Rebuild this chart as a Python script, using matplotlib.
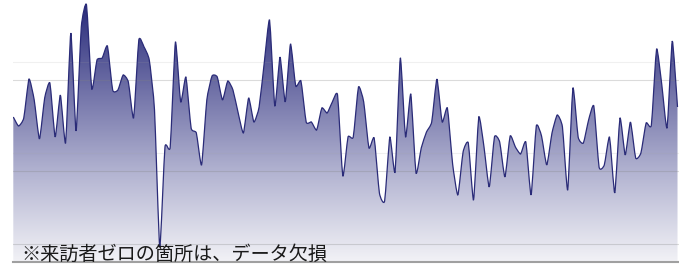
import numpy as np
import matplotlib
matplotlib.use('Agg')
import matplotlib.pyplot as plt
from matplotlib.colors import LinearSegmentedColormap
from matplotlib.path import Path
from matplotlib.patches import PathPatch

plt.rcParams['font.family'] = ['Noto Sans CJK JP', 'DejaVu Sans']

# 来訪者数（画像から読み取った値、欠損日はゼロ付近）
visitors = [145, 136, 144, 183, 162, 123, 164, 179, 125, 167,
            119, 229, 131, 235, 257, 173, 202, 204, 216, 172,
            172, 187, 180, 144, 222, 215, 202, 152, 15, 115,
            115, 220, 160, 185, 134, 129, 97, 162, 186, 185,
            162, 181, 172, 149, 129, 164, 140, 155, 200, 242,
            156, 205, 160, 218, 176, 181, 140, 140, 132, 154,
            149, 160, 167, 86, 125, 125, 175, 160, 114, 124,
            69, 61, 125, 90, 204, 125, 168, 89, 114, 130,
            140, 183, 140, 154, 98, 67, 110, 119, 62, 145,
            115, 75, 125, 120, 85, 126, 115, 108, 120, 67,
            136, 126, 97, 129, 147, 135, 72, 174, 125, 119,
            142, 156, 95, 97, 125, 69, 144, 107, 140, 104,
            109, 139, 137, 213, 177, 134, 221, 155]
days = np.arange(len(visitors))

grid_major = [18, 91, 182]
grid_minor = [109, 200]


# 折れ線をなめらかな曲線（ベジェ）にする
def smooth_path(xs, ys, t=0.5, close=False):
    pts = np.column_stack([xs, ys]).astype(float)
    n = len(pts)
    verts = [pts[0]]
    codes = [Path.MOVETO]
    for i in range(n - 1):
        p0 = pts[max(i - 1, 0)]
        p1 = pts[i]
        p2 = pts[i + 1]
        p3 = pts[min(i + 2, n - 1)]
        c1 = p1 + (p2 - p0) / 6 * t
        c2 = p2 - (p3 - p1) / 6 * t
        verts += [c1, c2, p2]
        codes += [Path.CURVE4] * 3
    if close:
        verts += [(xs[-1], 0), (xs[0], 0), pts[0]]
        codes += [Path.LINETO, Path.LINETO, Path.CLOSEPOLY]
    return Path(verts, codes)


fig = plt.figure(figsize=(6.79, 2.67), dpi=100)
ax = fig.add_axes([13.3 / 679, 5 / 267, 1 - 13.3 / 679, 262 / 267])

xmax = (679 - 13.3) / 5.23
ax.set_xlim(0, xmax)
ax.set_ylim(0, 262)

# グラデーション塗り
cmap = LinearSegmentedColormap.from_list(
    'navy', ['#f2f2f6', '#b4b5d2', '#6e6fa6', '#262878'])
grad = np.linspace(0, 1, 256).reshape(-1, 1)
im = ax.imshow(grad, cmap=cmap, aspect='auto', origin='lower',
               extent=[0, xmax, 0, 262], zorder=1)
im.set_clip_path(smooth_path(days, visitors, close=True), transform=ax.transData)

ax.add_patch(PathPatch(smooth_path(days, visitors), fill=False,
                       edgecolor='#2a2b78', lw=0.9, zorder=3))

for g in grid_major:
    ax.axhline(g, color='#808080', alpha=0.28, lw=0.8, zorder=2)
for g in grid_minor:
    ax.axhline(g, color='#a0a0a0', alpha=0.15, lw=0.8, zorder=2)

ax.axhline(0, color='#a0a0a0', lw=1.5, zorder=4, clip_on=False)

for s in ax.spines.values():
    s.set_visible(False)
ax.set_xticks([])
ax.set_yticks([])

fig.text(21 / 679, 7.5 / 267, '※来訪者ゼロの箇所は、データ欠損',
         fontsize=13.8, color='#1a1a1a', ha='left', va='baseline')

fig.savefig('out.png', dpi=100)
